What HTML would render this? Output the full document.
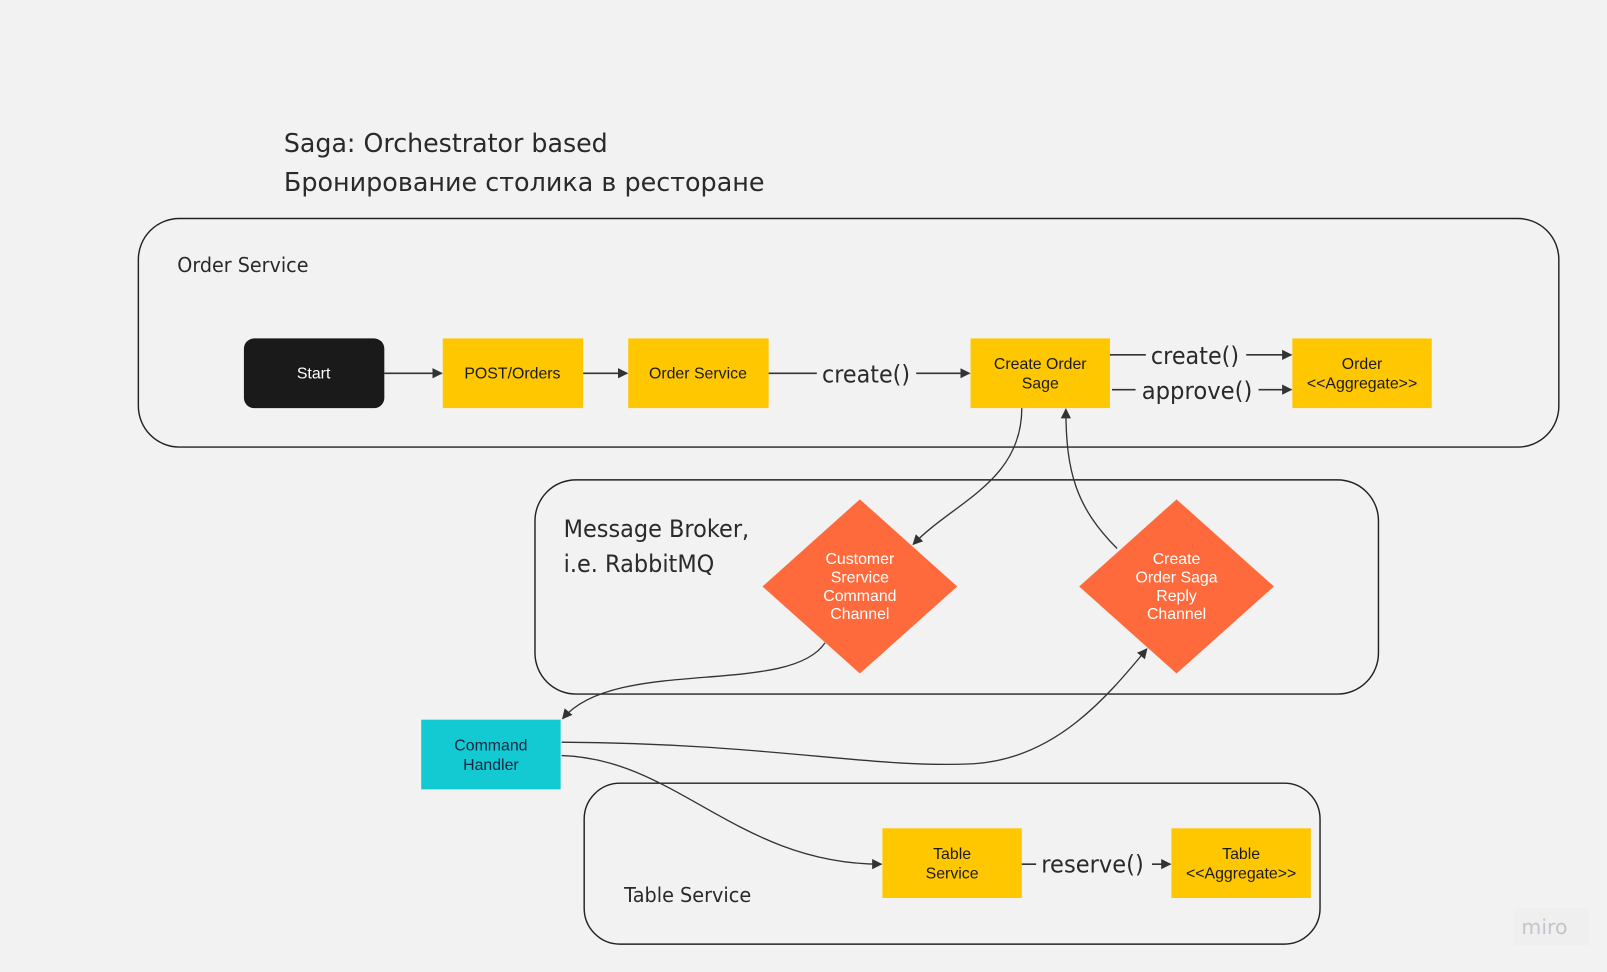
<!DOCTYPE html>
<html><head><meta charset="utf-8"><style>
html,body{margin:0;padding:0;background:#f2f2f2;}
svg{display:block}
.t{font-family:"Liberation Sans",sans-serif;font-size:15.5px;fill:#1a1a1a;text-anchor:middle}
.w{fill:#fff}
.big{font-family:"DejaVu Sans","Liberation Sans",sans-serif;fill:#2a2a2a}
.c{fill:none;stroke:#222;stroke-width:1.4}
.l{fill:none;stroke:#333;stroke-width:1.6}
</style></head><body>
<svg width="1607" height="972" viewBox="0 0 1568 948" xmlns="http://www.w3.org/2000/svg">
<defs><marker id="a" markerWidth="10" markerHeight="10" refX="9" refY="5" orient="auto" markerUnits="userSpaceOnUse"><path d="M0,0 L10,5 L0,10 Z" fill="#333"/></marker></defs>
<rect width="1568" height="948" fill="#f2f2f2"/>
<text class="big" x="277" y="148" font-size="25" textLength="316" lengthAdjust="spacingAndGlyphs">Saga: Orchestrator based</text>
<text class="big" x="277" y="186" font-size="25" textLength="469" lengthAdjust="spacingAndGlyphs">Бронирование столика в ресторане</text>

<rect class="c" x="135" y="213" width="1386" height="223" rx="40"/>
<text class="big" x="173" y="265" font-size="19.5" textLength="128" lengthAdjust="spacingAndGlyphs">Order Service</text>
<rect class="c" x="522" y="468" width="823" height="209" rx="40"/>
<text class="big" x="550" y="524" font-size="23.5" textLength="181" lengthAdjust="spacingAndGlyphs">Message Broker,</text>
<text class="big" x="550" y="558" font-size="23.5" textLength="147" lengthAdjust="spacingAndGlyphs">i.e. RabbitMQ</text>
<rect class="c" x="570" y="764" width="718" height="157" rx="35"/>
<text class="big" x="609" y="880" font-size="19.5" textLength="124" lengthAdjust="spacingAndGlyphs">Table Service</text>

<rect x="238" y="330" width="137" height="68" rx="10" fill="#1a1a1a"/>
<text class="t w" x="306" y="369">Start</text>
<rect x="432" y="330" width="137" height="68" fill="#ffc700"/>
<text class="t" x="500" y="369">POST/Orders</text>
<rect x="613" y="330" width="137" height="68" fill="#ffc700"/>
<text class="t" x="681" y="369">Order Service</text>
<rect x="947" y="330" width="136" height="68" fill="#ffc700"/>
<text class="t" x="1015" y="360">Create Order</text><text class="t" x="1015" y="379">Sage</text>
<rect x="1261" y="330" width="136" height="68" fill="#ffc700"/>
<text class="t" x="1329" y="360">Order</text><text class="t" x="1329" y="379">&lt;&lt;Aggregate&gt;&gt;</text>
<rect x="411" y="702" width="136" height="68" fill="#13c9d2"/>
<text class="t" x="479" y="732" style="fill:#1a2540">Command</text><text class="t" x="479" y="751" style="fill:#1a2540">Handler</text>
<rect x="861" y="808" width="136" height="68" fill="#ffc700"/>
<text class="t" x="929" y="838">Table</text><text class="t" x="929" y="857">Service</text>
<rect x="1143" y="808" width="136" height="68" fill="#ffc700"/>
<text class="t" x="1211" y="838">Table</text><text class="t" x="1211" y="857">&lt;&lt;Aggregate&gt;&gt;</text>

<polygon points="839,487 934,572 839,657 744,572" fill="#ff6a3d"/>
<text class="t w" x="839" y="550">Customer</text><text class="t w" x="839" y="568">Srervice</text><text class="t w" x="839" y="586">Command</text><text class="t w" x="839" y="604">Channel</text>
<polygon points="1148,487 1243,572 1148,657 1053,572" fill="#ff6a3d"/>
<text class="t w" x="1148" y="550">Create</text><text class="t w" x="1148" y="568">Order Saga</text><text class="t w" x="1148" y="586">Reply</text><text class="t w" x="1148" y="604">Channel</text>

<line class="l" x1="375" y1="364" x2="431" y2="364" marker-end="url(#a)"/>
<line class="l" x1="569" y1="364" x2="612" y2="364" marker-end="url(#a)"/>
<line class="l" x1="750" y1="364" x2="797" y2="364"/>
<text class="big" x="845" y="373" font-size="23" text-anchor="middle" textLength="86" lengthAdjust="spacingAndGlyphs">create()</text>
<line class="l" x1="894" y1="364" x2="946" y2="364" marker-end="url(#a)"/>
<line class="l" x1="1083" y1="346" x2="1118" y2="346"/>
<text class="big" x="1166" y="355" font-size="23" text-anchor="middle" textLength="86" lengthAdjust="spacingAndGlyphs">create()</text>
<line class="l" x1="1216" y1="346" x2="1260" y2="346" marker-end="url(#a)"/>
<line class="l" x1="1085" y1="380" x2="1108" y2="380"/>
<text class="big" x="1168" y="389" font-size="23" text-anchor="middle" textLength="108" lengthAdjust="spacingAndGlyphs">approve()</text>
<line class="l" x1="1228" y1="380" x2="1260" y2="380" marker-end="url(#a)"/>
<line class="l" x1="997" y1="843" x2="1011" y2="843"/>
<text class="big" x="1066" y="851" font-size="23" text-anchor="middle" textLength="100" lengthAdjust="spacingAndGlyphs">reserve()</text>
<line class="l" x1="1124" y1="843" x2="1142" y2="843" marker-end="url(#a)"/>

<path class="l" style="stroke-width:1.3" d="M997,398 C997,470 930,490 891,531" marker-end="url(#a)"/>
<path class="l" style="stroke-width:1.3" d="M1090,535 C1050,495 1040,460 1040,399" marker-end="url(#a)"/>
<path class="l" style="stroke-width:1.3" d="M805,627 C770,680 600,640 549,701" marker-end="url(#a)"/>
<path class="l" style="stroke-width:1.3" d="M548,724 C750,725 850,750 950,745 C1030,740 1080,680 1119,633" marker-end="url(#a)"/>
<path class="l" style="stroke-width:1.3" d="M548,737 C660,740 720,843 860,843" marker-end="url(#a)"/>

<rect x="1477" y="886" width="74" height="36" fill="#efefef"/>
<text x="1507" y="911" font-family="DejaVu Sans,sans-serif" font-size="20" fill="#c4c4cc" text-anchor="middle">miro</text>
</svg>
</body></html>
